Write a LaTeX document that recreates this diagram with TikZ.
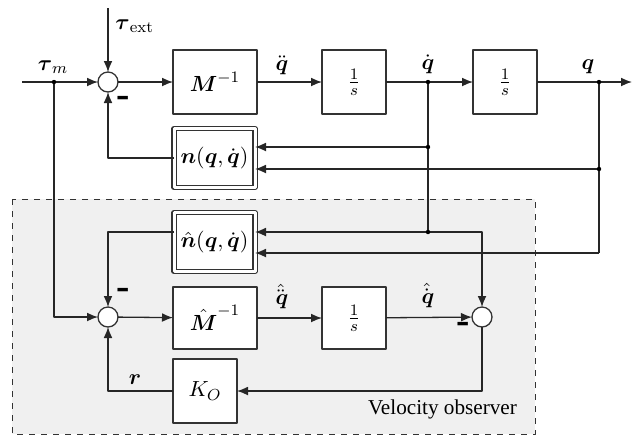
\documentclass[tikz,border=0pt]{standalone}
\usepackage{amsmath}
\usepackage[no-math]{fontspec}
\setmainfont{Liberation Serif}
\usetikzlibrary{arrows.meta}
\tikzset{
  blk/.style={draw=black!80,fill=white,line width=0.65pt,minimum height=32pt,inner sep=1pt,outer sep=0pt},
  nlblk/.style={blk,double,double distance=1.5pt,line width=0.6pt,minimum width=40.5pt,minimum height=29.5pt},
  sumc/.style={circle,draw=black!80,fill=white,line width=0.65pt,minimum size=10pt,inner sep=0pt,outer sep=0pt},
  sig/.style={->,line width=0.65pt,black!85},
  wire/.style={line width=0.65pt,black!85},
  lbl/.style={inner sep=0.5pt},
  minus/.style={inner sep=0pt,font=\fontsize{20}{20}\selectfont\bfseries},
}
\newcommand{\bs}[1]{\boldsymbol{#1}}
\begin{document}
\begin{tikzpicture}[>={Latex[length=5.5pt,width=4.4pt]},line join=round,x=0.5pt,y=-0.5pt,font=\fontsize{11.3}{13}\selectfont]
\useasboundingbox (0,0) rectangle (636,435);
% observer background
\draw[dashed,black!80,fill=black!6] (12,199) rectangle (535,434);
\node[anchor=south east,font=\fontsize{10.6}{12}\selectfont] at (524,426) {Velocity observer};
\path
(22,82) coordinate (in)
(54,82) coordinate (tm)
(108,8) coordinate (ext)
(428,82) coordinate (qd)
(428,147) coordinate (qda)
(428,232) coordinate (qdb)
(599,82) coordinate (q)
(599,169) coordinate (qa)
(599,253) coordinate (qb)
(632,82) coordinate (out)
;
% plant
\node[sumc] (s1) at (108,82) {};
\node[blk,minimum width=42pt] (Minv) at (215,82) {$\bs{M}^{-1}$};
\node[blk,minimum width=32pt] (i1) at (354,82) {$\frac{1}{s}$};
\node[blk,minimum width=32pt] (i2) at (505,82) {$\frac{1}{s}$};
\node[nlblk] (nl) at (214.5,158) {$\bs{n}(\bs{q},\dot{\bs{q}})$};
% observer
\node[nlblk] (nh) at (214.5,242) {$\hat{\bs{n}}(\bs{q},\dot{\bs{q}})$};
\node[sumc] (s2) at (108,317) {};
\node[blk,minimum width=42pt,minimum height=31pt] (Mh) at (215,318) {$\hat{\bs{M}}^{-1}$};
\node[blk,minimum width=32pt,minimum height=31pt] (i3) at (354,318) {$\frac{1}{s}$};
\node[sumc] (s3) at (482,317) {};
\node[blk,minimum width=32pt] (KO) at (205,391) {$K_O$};
%
\draw[sig] (in)--(s1);
\draw[sig] (ext)--(s1);
\draw[sig] (s1)--(Minv);
\draw[sig] (Minv)--(i1);
\draw[sig] (i1)--(i2);
\draw[sig] (i2)--(out);
\draw[sig] (nl.west)-|(s1);
\draw[wire] (qd)--(qdb);
\draw[wire] (q)--(qb);
\draw[sig] (qda)--(qda-|nl.east);
\draw[sig] (qa)--(qa-|nl.east);
\draw[sig] (qdb)--(qdb-|nh.east);
\draw[sig] (qb)--(qb-|nh.east);
\draw[sig] (qdb)-|(s3);
\draw[sig] (qdb-|nh.west)-|(s2);
\draw[sig] (tm)|-(s2);
\draw[sig] (s2)--(Mh);
\draw[sig] (Mh)--(i3);
\draw[sig] (i3)--(s3);
\draw[sig] (s3)|-(KO);
\draw[sig] (KO)-|(s2);
% labels
\node[lbl,anchor=south] at (53,75) {$\bs{\tau}_m$};
\node[lbl,anchor=west] at (114,26) {$\bs{\tau}_{\mathrm{ext}}$};
\node[lbl,anchor=south] at (282,76) {$\ddot{\bs{q}}$};
\node[lbl,anchor=south] at (428,75) {$\dot{\bs{q}}$};
\node[lbl,anchor=south] at (588,75) {$\bs{q}$};
\node[lbl,anchor=south] at (282,310) {$\hat{\ddot{\bs{q}}}$};
\node[lbl,anchor=south] at (428,309) {$\hat{\dot{\bs{q}}}$};
\node[lbl] at (135,380) {$\bs{r}$};
\node[minus] at (123,102) {-};
\node[minus] at (123,294) {-};
\node[minus] at (463,328) {-};
\foreach \x in {tm,qd,qda,qdb,q,qa}
\fill[black] (\x) circle (1.1pt);
\end{tikzpicture}
\end{document}
